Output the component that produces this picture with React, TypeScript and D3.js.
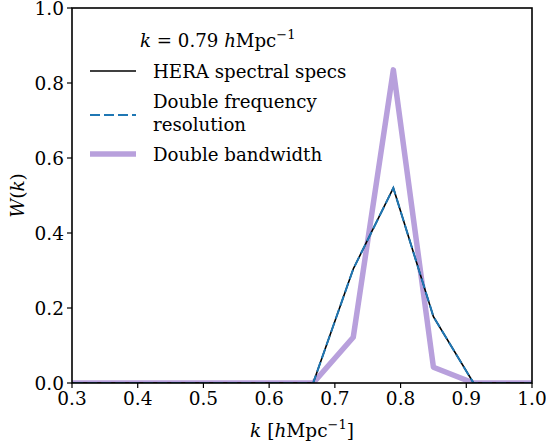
import React from "react";
import * as d3 from "d3";

const kValues = [0.238, 0.299, 0.360, 0.422, 0.483, 0.544, 0.605, 0.667, 0.728, 0.789, 0.850, 0.911, 0.973, 1.034];
const heraW = [0, 0, 0, 0, 0, 0, 0, 0, 0.304, 0.52, 0.177, 0, 0, 0];
const doubleFreqW = [0, 0, 0, 0, 0, 0, 0, 0, 0.304, 0.52, 0.177, 0, 0, 0];
const doubleBandW = [0, 0, 0, 0, 0, 0, 0, 0, 0.122, 0.835, 0.042, 0, 0, 0];
const xTicks = [0.3, 0.4, 0.5, 0.6, 0.7, 0.8, 0.9, 1.0];
const yTicks = [0, 0.2, 0.4, 0.6, 0.8, 1.0];

const W = 546, H = 447;
const L = 72, R = 532, T = 8, B = 383;
const FONT = "'DejaVu Serif', 'Liberation Serif', 'Times New Roman', serif";
const DASH = "10,4";

export default function App() {
  const x = d3.scaleLinear().domain([0.3, 1.0]).range([L, R]);
  const y = d3.scaleLinear().domain([0, 1]).range([B, T]);
  const line = (vals: number[]) =>
    d3.line<number>().x((_, i) => x(kValues[i])).y((v) => y(v))(vals) || "";

  return (
    <svg width={W} height={H} style={{ position: "absolute", left: 0, top: 0, fontFamily: FONT }}>
      <defs>
        <clipPath id="plot">
          <rect x={L} y={T} width={R - L} height={B - T} />
        </clipPath>
      </defs>
      <rect x={0} y={0} width={W} height={H} fill="white" />
      <g clipPath="url(#plot)">
        <path d={line(doubleBandW)} fill="none" stroke="#b8a0dc" strokeWidth={5.5} strokeLinejoin="round" />
        <path d={line(heraW)} fill="none" stroke="black" strokeWidth={1.6} />
        <path d={line(doubleFreqW)} fill="none" stroke="#1f77b4" strokeWidth={2} strokeDasharray={DASH} />
      </g>
      <rect x={L} y={T} width={R - L} height={B - T} fill="none" stroke="black" strokeWidth={1.6} />
      {xTicks.map((t) => (
        <g key={"x" + t}>
          <line x1={x(t)} x2={x(t)} y1={B} y2={B + 5} stroke="black" strokeWidth={1.2} />
          <text x={x(t)} y={B + 22} textAnchor="middle" fontSize={18.5}>{t.toFixed(1)}</text>
        </g>
      ))}
      {yTicks.map((t) => (
        <g key={"y" + t}>
          <line x1={L - 5} x2={L} y1={y(t)} y2={y(t)} stroke="black" strokeWidth={1.2} />
          <text x={L - 8} y={y(t) + 6.5} textAnchor="end" fontSize={18.5}>{t.toFixed(1)}</text>
        </g>
      ))}
      <text x={(L + R) / 2} y={437} textAnchor="middle" fontSize={18.5}>
        <tspan fontStyle="italic">k</tspan> [<tspan fontStyle="italic">h</tspan>Mpc
        <tspan dy={-8} fontSize={13}>−1</tspan>
        <tspan dy={8}>]</tspan>
      </text>
      <text transform={`translate(24,${(T + B) / 2}) rotate(-90)`} textAnchor="middle" fontSize={18.5}>
        <tspan fontStyle="italic">W</tspan>(<tspan fontStyle="italic">k</tspan>)
      </text>
      <g fontSize={18.2}>
        <text x={140} y={47}>
          <tspan fontStyle="italic">k</tspan> = 0.79 <tspan fontStyle="italic">h</tspan>Mpc
          <tspan dy={-8} fontSize={13}>−1</tspan>
        </text>
        <line x1={90} x2={136} y1={71} y2={71} stroke="black" strokeWidth={1.6} />
        <text x={153} y={78}>HERA spectral specs</text>
        <line x1={90} x2={136} y1={115} y2={115} stroke="#1f77b4" strokeWidth={2} strokeDasharray={DASH} />
        <text x={153} y={108}>Double frequency</text>
        <text x={153} y={131}>resolution</text>
        <line x1={90} x2={136} y1={154} y2={154} stroke="#b8a0dc" strokeWidth={5.5} />
        <text x={153} y={161}>Double bandwidth</text>
      </g>
    </svg>
  );
}
